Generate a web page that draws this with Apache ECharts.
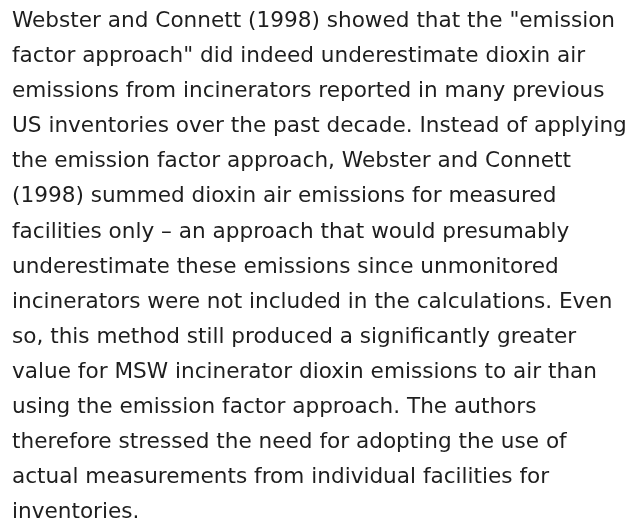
<!DOCTYPE html>
<html>
<head>
<meta charset="utf-8">
<script src="https://cdn.jsdelivr.net/npm/echarts@6/dist/echarts.min.js"></script>
<style>
  html, body { margin: 0; padding: 0; background: #fff; }
  #chart { width: 632px; height: 522px; }
</style>
</head>
<body>
<div id="chart"></div>
<script>
// paragraph lines, as wrapped in the reference
var lines = [
  'Webster and Connett (1998) showed that the "emission',
  'factor approach" did indeed underestimate dioxin air',
  'emissions from incinerators reported in many previous',
  'US inventories over the past decade. Instead of applying',
  'the emission factor approach, Webster and Connett',
  '(1998) summed dioxin air emissions for measured',
  'facilities only \u2013 an approach that would presumably',
  'underestimate these emissions since unmonitored',
  'incinerators were not included in the calculations. Even',
  'so, this method still produced a significantly greater',
  'value for MSW incinerator dioxin emissions to air than',
  'using the emission factor approach. The authors',
  'therefore stressed the need for adopting the use of',
  'actual measurements from individual facilities for',
  'inventories.'
];

var chart = echarts.init(document.getElementById('chart'));

var fontSize = 21.6;
var textLeft = 12;
var firstBaseline = 28;
var lineGap = 35.07;

chart.setOption({
  backgroundColor: '#fff',
  graphic: {
    elements: lines.map(function (txt, i) {
      return {
        type: 'text',
        x: textLeft,
        y: firstBaseline + i * lineGap - fontSize * 0.3,
        style: {
          text: txt,
          font: fontSize + 'px "DejaVu Sans", sans-serif',
          fill: '#1e1e1e',
          verticalAlign: 'middle'
        }
      };
    })
  }
});
</script>
</body>
</html>
